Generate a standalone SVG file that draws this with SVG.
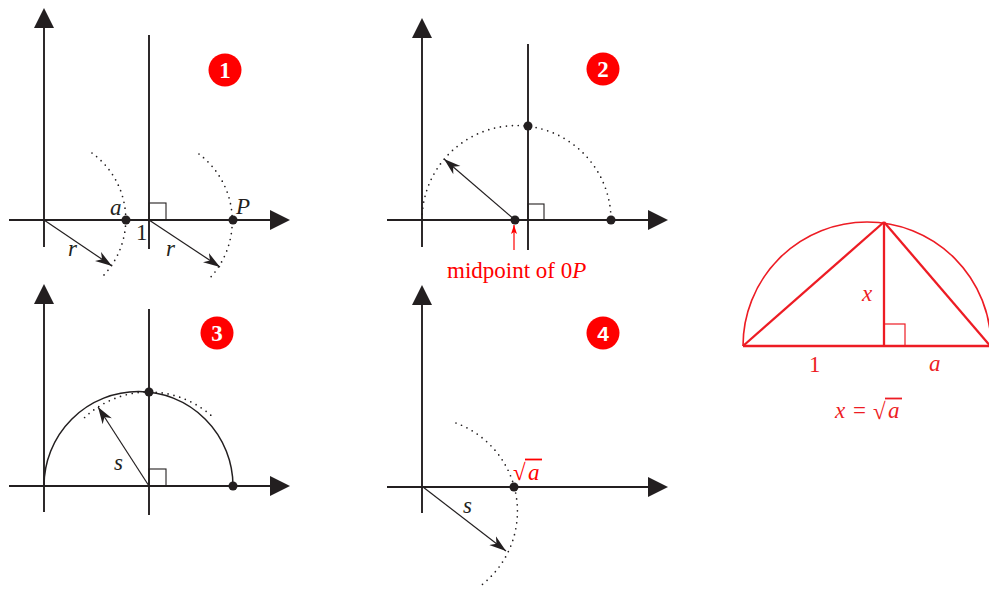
<svg xmlns="http://www.w3.org/2000/svg" width="989" height="590" viewBox="0 0 989 590">
<defs>
<style>
.ax{stroke:#231f20;stroke-width:1.9;fill:none}
.thin{stroke:#231f20;stroke-width:1.2;fill:none}
.dot{stroke:#231f20;stroke-width:1.7;fill:none;stroke-dasharray:0 6;stroke-linecap:round}
.pt{fill:#231f20}
.sq{stroke:#231f20;stroke-width:1.1;fill:none}
.lbl{font-family:"Liberation Serif",serif;font-size:23px;fill:#231f20}
.it{font-style:italic}
.badge{fill:#ff0000}
.bt{font-family:"Liberation Serif",serif;font-weight:bold;font-size:23px;fill:#fff;text-anchor:middle}
.red{stroke:#ed1c24;fill:none}
.rtxt{font-family:"Liberation Serif",serif;font-size:23px;fill:#ed1c24}
</style>
<marker id="big" markerUnits="userSpaceOnUse" viewBox="0 -10 20 20" refX="0" refY="0" markerWidth="20" markerHeight="20" orient="auto">
<path d="M0,-10 L20,0 L0,10 z" fill="#231f20"/>
</marker>
<marker id="sm" markerUnits="userSpaceOnUse" viewBox="-17 -6 18 12" refX="0" refY="0" markerWidth="18" markerHeight="12" orient="auto">
<path d="M0,0 L-17,-5.5 L-12,0 L-17,5.5 z" fill="#231f20"/>
</marker>
<marker id="rsm" markerUnits="userSpaceOnUse" viewBox="-9 -4 10 8" refX="0" refY="0" markerWidth="10" markerHeight="8" orient="auto">
<path d="M0,0 L-9,-3 L-7,0 L-9,3 z" fill="#ff0000"/>
</marker>
</defs>

<g id="panel1">
<line class="ax" x1="44" y1="247" x2="44" y2="28" marker-end="url(#big)"/>
<line class="ax" x1="9" y1="220" x2="270" y2="220" marker-end="url(#big)"/>
<line class="ax" x1="149" y1="35" x2="149" y2="249"/>
<rect class="sq" x="149" y="203" width="17" height="17"/>
<path class="dot" d="M92,153 A82,82 0 0 1 100,279"/>
<path class="dot" d="M199,154 A84,84 0 0 1 208,280"/>
<circle class="pt" cx="126" cy="220" r="4.5"/>
<circle class="pt" cx="233" cy="220" r="4.5"/>
<text class="lbl it" x="110" y="215">a</text>
<text class="lbl" x="136" y="240">1</text>
<text class="lbl it" x="236" y="214">P</text>
<text class="lbl it" x="68" y="256">r</text>
<text class="lbl it" x="166" y="256">r</text>
<g id="badge1"><circle class="badge" cx="225" cy="70" r="16.5"/><text class="bt" x="225" y="78">1</text></g>
</g>

<g id="panel2">
<line class="ax" x1="422" y1="247" x2="422" y2="38" marker-end="url(#big)"/>
<line class="ax" x1="387" y1="220" x2="648" y2="220" marker-end="url(#big)"/>
<line class="ax" x1="528" y1="44" x2="528" y2="250"/>
<rect class="sq" x="528" y="204" width="16" height="16"/>
<path class="dot" d="M422,220 A94.5,94.5 0 0 1 611,220"/>
<circle class="pt" cx="515" cy="220" r="4.5"/>
<circle class="pt" cx="528" cy="126" r="4.5"/>
<circle class="pt" cx="611" cy="220" r="4.5"/>
<g id="midpoint-label">
<line x1="514" y1="250" x2="514" y2="225" stroke="#ff0000" stroke-width="1.2" marker-end="url(#rsm)"/>
<text x="447" y="278" font-family="Liberation Serif, serif" font-size="23" fill="#ff0000">midpoint of 0<tspan font-style="italic">P</tspan></text>
</g>
<g id="badge2"><circle class="badge" cx="603" cy="69" r="16.5"/><text class="bt" x="603" y="77">2</text></g>
</g>

<g id="panel3">
<line class="ax" x1="44" y1="512" x2="44" y2="304" marker-end="url(#big)"/>
<line class="ax" x1="9" y1="486" x2="270" y2="486" marker-end="url(#big)"/>
<line class="ax" x1="149" y1="309" x2="149" y2="515"/>
<rect class="sq" x="149" y="469" width="17" height="17"/>
<path d="M44,486 A94.5,94.5 0 0 1 233,486" stroke="#231f20" stroke-width="1.5" fill="none"/>
<path class="dot" d="M84.6,417.5 A94,94 0 0 1 214.5,418.6"/>
<circle class="pt" cx="149" cy="392" r="4.5"/>
<circle class="pt" cx="233" cy="486" r="4.5"/>
<text class="lbl it" x="114" y="470">s</text>
<g id="badge3"><circle class="badge" cx="217" cy="333" r="16.5"/><text class="bt" x="217" y="341">3</text></g>
</g>

<g id="panel4">
<line class="ax" x1="422" y1="513" x2="422" y2="305" marker-end="url(#big)"/>
<line class="ax" x1="387" y1="487" x2="648" y2="487" marker-end="url(#big)"/>
<path class="dot" d="M456,423 A94,94 0 0 1 479,587"/>
<circle class="pt" cx="514" cy="487" r="4.5"/>
<text class="lbl it" x="463" y="513">s</text>
<g id="sqrt-a-label">
<text class="rtxt" x="513" y="480" fill="#ff0000" style="fill:#ff0000">√</text>
<text class="rtxt it" x="528" y="480" style="fill:#ff0000">a</text>
<line x1="525" y1="459.5" x2="542" y2="459.5" stroke="#ff0000" stroke-width="1.8"/>
</g>
<g id="badge4"><circle class="badge" cx="603" cy="333" r="16.5"/><text x="603" y="341" font-family="Liberation Sans, sans-serif" font-weight="bold" font-size="21" fill="#fff" text-anchor="middle">4</text></g>
</g>

<g id="connectors">
<line class="thin" x1="44" y1="220" x2="112" y2="266" marker-end="url(#sm)"/>
<line class="thin" x1="149" y1="220" x2="220" y2="267" marker-end="url(#sm)"/>
<line class="thin" x1="515" y1="220" x2="444" y2="159" marker-end="url(#sm)"/>
<line class="thin" x1="149" y1="486" x2="98" y2="407" marker-end="url(#sm)"/>
<line class="thin" x1="423" y1="487" x2="506" y2="551" marker-end="url(#sm)"/>
</g>

<g id="right-figure">
<path class="red" stroke-width="1.6" d="M743,346 A124,124 0 0 1 991,346"/>
<g class="red" stroke-width="2.3">
<line x1="743" y1="346" x2="991" y2="346"/>
<line x1="743" y1="346" x2="884" y2="222"/>
<line x1="884" y1="222" x2="992" y2="348"/>
<line x1="884" y1="222" x2="884" y2="346"/>
</g>
<rect class="red" stroke-width="1.2" x="884" y="324" width="21" height="22"/>
<text class="rtxt it" x="862" y="301">x</text>
<text class="rtxt" x="809" y="372">1</text>
<text class="rtxt it" x="929" y="371">a</text>
<g id="equation">
<text class="rtxt it" x="835" y="418">x</text>
<text class="rtxt" x="853" y="418">=</text>
<text class="rtxt" x="873" y="419">√</text>
<text class="rtxt it" x="888" y="418">a</text>
<line x1="885" y1="398.5" x2="902" y2="398.5" stroke="#ed1c24" stroke-width="1.8"/>
</g>
</g>
</svg>
